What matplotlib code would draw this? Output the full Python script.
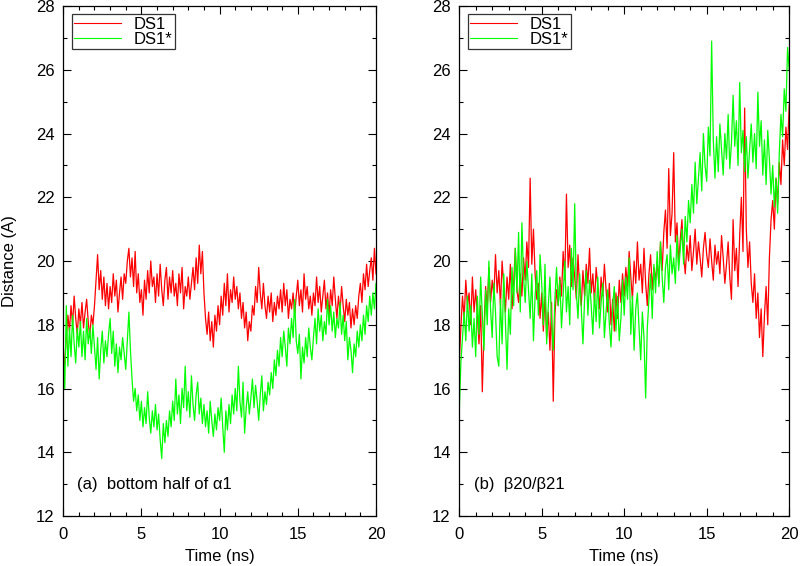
import numpy as np
import matplotlib
matplotlib.use("Agg")
import matplotlib.pyplot as plt
from matplotlib.ticker import MultipleLocator
from matplotlib.lines import Line2D

plt.rcParams['font.family'] = ['Liberation Sans', 'DejaVu Sans']

# time axis: 0..20 ns, one value every 0.1 ns
time_ns = np.arange(201) * 0.1

# (a) bottom half of alpha1
left_ds1 = [
    16.0, 16.9, 17.6, 18.3, 17.8, 18.6, 18.0, 18.9, 18.2, 17.7,
    18.5, 18.0, 18.7, 17.9, 18.4, 18.8, 18.1, 17.6, 18.3, 18.0,
    18.6, 19.4, 20.2, 19.1, 19.7, 18.8, 19.5, 18.6, 19.3, 18.5,
    19.2, 18.7, 19.6, 18.9, 19.4, 18.4, 19.0, 19.5, 18.8, 19.6,
    19.3, 20.0, 20.4, 19.5, 20.1, 19.2, 20.3, 19.0, 19.6, 18.7,
    19.1, 18.3, 19.4, 18.8, 19.7, 19.0, 20.0, 19.2, 19.5, 18.7,
    19.6, 18.9, 19.9, 19.1, 18.6, 19.4, 19.8, 18.8, 19.5, 19.0,
    19.7, 18.9, 19.3, 18.6, 19.6, 19.0, 19.8, 18.5, 19.2, 18.9,
    19.5, 18.8, 19.3, 19.8, 19.1, 20.1, 19.3, 20.5, 19.6, 20.3,
    19.0, 18.2, 17.7, 18.4, 17.5, 18.1, 17.3, 18.3, 17.8, 18.6,
    18.0, 18.9, 18.3, 19.3, 18.6, 19.6, 18.4, 19.1, 18.7, 19.5,
    18.8, 19.2, 18.5, 19.0, 18.2, 18.7, 17.9, 18.4, 17.5, 18.1,
    17.8, 18.6, 18.3, 19.2, 18.7, 19.8, 19.0, 18.5, 19.3, 18.6,
    18.2, 18.9, 18.4, 19.0, 18.1, 18.7, 18.3, 18.9, 18.5, 19.1,
    18.4, 19.3, 18.6, 19.1, 18.2, 18.8, 18.5, 19.0, 18.3, 18.9,
    19.4, 18.6, 19.1, 18.4, 19.6, 18.8, 19.2, 18.5, 18.9, 18.3,
    19.0, 18.6, 19.5, 18.7, 19.2, 18.4, 18.9, 19.4, 18.5, 19.0,
    18.3, 19.1, 18.6, 19.5, 18.8, 18.2, 18.9, 18.4, 19.2, 18.6,
    18.1, 18.8, 18.3, 18.7, 17.9, 18.5, 18.0, 18.6, 18.2, 18.9,
    19.3, 18.7, 19.6, 19.1, 19.9, 19.2, 19.7, 20.1, 19.4, 20.4,
    19.6,
]
left_ds1_star = [
    17.2, 16.0, 18.6, 16.7, 17.9, 17.0, 18.3, 17.4, 16.8, 17.9,
    17.3, 18.1, 17.0, 17.8, 16.9, 18.2, 17.4, 17.9, 17.1, 18.0,
    17.3, 16.6, 17.6, 16.3, 17.2, 17.8, 16.8, 17.5, 17.0, 17.7,
    18.2, 17.1, 17.8, 16.7, 17.4, 16.5, 17.3, 16.9, 17.6, 17.1,
    16.6, 17.5, 18.4, 17.2, 16.3, 15.6, 16.0, 15.3, 15.8, 15.0,
    15.6, 14.8, 15.4, 14.9, 15.9, 15.1, 14.6, 15.3, 14.8, 15.5,
    14.7, 15.2, 14.4, 13.8, 14.9, 14.3, 15.0, 14.5, 15.3, 14.8,
    15.6, 15.0, 16.3, 15.2, 15.8, 14.9, 16.0, 15.4, 16.7, 15.3,
    15.9, 15.1, 16.4, 15.5, 15.0, 15.8, 16.2, 15.2, 15.7, 14.9,
    15.5, 14.8, 15.3, 14.6, 15.6, 15.0, 14.5, 15.2, 14.7, 15.4,
    15.0, 15.7, 14.8, 14.0, 15.3, 14.7, 15.5, 14.9, 15.8, 15.2,
    16.0, 15.3, 16.7, 15.6, 15.1, 16.2, 14.6, 15.4, 15.9, 15.2,
    15.7, 16.3, 15.4, 16.1, 15.6, 15.0, 15.8, 16.4, 15.3, 15.9,
    15.5, 16.2, 15.8, 16.5, 16.0, 16.9, 16.4, 17.2, 16.7, 17.6,
    17.0, 17.8, 17.3, 16.7, 17.9, 17.4, 18.2, 17.6, 18.8, 17.5,
    17.1, 17.7, 16.3, 17.3, 16.8, 17.6, 17.0, 17.9, 17.3, 16.9,
    17.6, 18.2, 17.4, 18.5, 17.8, 18.3, 17.5, 18.1, 17.7, 18.8,
    18.0, 18.6, 17.8, 18.4, 17.6, 18.2, 17.9, 18.7, 17.7, 18.3,
    17.5, 18.1, 16.9, 17.6, 17.2, 16.5, 17.4, 17.0, 17.8, 17.3,
    18.0, 17.5, 18.3, 17.7, 18.6, 18.1, 18.9, 18.3, 19.0, 18.5,
    19.3,
]

# (b) beta20/beta21
right_ds1 = [
    16.8, 17.9, 18.9, 18.2, 19.4, 18.6, 19.0, 18.0, 19.5, 18.4,
    19.1, 18.3, 17.4, 18.6, 15.9, 17.8, 19.2, 18.5, 19.8, 18.7,
    19.4, 18.9, 20.2, 19.0, 19.7, 18.6, 20.0, 19.2, 18.4, 19.5,
    18.8, 19.9, 18.5, 19.3, 20.4, 19.1, 18.7, 19.6, 18.9, 20.1,
    19.4, 20.6, 19.8, 22.6, 19.9, 21.0, 19.6, 18.8, 19.3, 18.2,
    19.0, 17.8, 18.9, 17.6, 18.4, 17.2, 18.7, 15.6, 18.3, 19.1,
    18.6, 19.5, 18.9, 20.3, 19.4, 22.1, 19.8, 20.5, 19.2, 20.1,
    19.5, 18.8, 20.2, 19.1, 18.6, 19.7, 18.9, 19.9, 19.3, 20.4,
    19.0, 19.6, 18.7, 19.8, 19.2, 18.5, 19.5, 18.9, 19.9, 19.1,
    18.4, 19.3, 18.0, 18.8, 17.8, 19.0, 18.2, 19.4, 18.7, 19.6,
    18.9, 19.8, 19.2, 20.3, 19.5, 18.8, 20.0, 19.3, 20.6, 19.4,
    19.9, 19.0, 20.4, 19.3, 18.6, 19.6, 20.2, 19.1, 19.8, 19.4,
    20.0, 19.3, 20.6, 19.7, 20.9, 21.6, 20.4, 22.9, 20.8, 21.5,
    23.4, 20.6, 21.2, 19.9, 20.7, 21.3, 20.2, 19.6, 20.5, 20.0,
    20.8, 19.7, 20.3, 21.0, 19.9, 20.6, 20.1, 19.5, 20.4, 20.9,
    20.2, 19.8, 20.7, 20.0, 19.4, 20.5, 19.9, 20.3, 19.6, 20.8,
    20.1, 19.3, 19.9, 20.6, 19.5, 18.8, 21.3, 19.7, 20.4, 19.2,
    20.8, 22.0, 20.3, 24.8, 21.0, 19.8, 20.6, 19.3, 18.7, 19.6,
    18.2, 19.0, 17.6, 18.5, 17.0, 18.3, 19.2, 18.0, 20.1, 21.3,
    21.9, 21.0, 22.6, 21.8, 23.1, 22.4, 23.8, 23.0, 24.2, 23.5,
    24.9,
]
right_ds1_star = [
    15.2, 16.8, 17.6, 18.4, 17.5, 18.9, 17.8, 18.6, 17.3, 18.2,
    17.0, 18.9, 17.7, 19.5, 18.3, 17.2, 19.1, 18.0, 20.0, 18.5,
    17.6, 19.3, 18.4, 17.0, 16.7, 18.8, 17.4, 19.6, 18.1, 16.6,
    18.5, 17.7, 19.8, 18.6, 20.4, 19.0, 20.9, 18.4, 21.2, 19.5,
    18.7, 20.0, 19.1, 18.2, 19.6, 17.5, 18.9, 19.7, 18.3, 20.2,
    19.3, 18.0, 19.9, 17.4, 18.6, 19.5, 18.1, 17.2, 18.8, 19.8,
    18.6, 19.4, 17.9, 18.9, 20.0, 18.4, 19.2, 18.0, 20.4, 19.1,
    21.8, 19.0, 18.2, 19.6, 18.5, 17.4, 18.8, 19.7, 18.3, 19.4,
    18.6, 17.7, 19.0, 18.1, 19.5, 17.9, 18.7, 19.3, 17.6, 18.4,
    19.1, 18.0, 17.3, 18.6, 19.2, 17.8, 18.9, 17.5, 18.2, 19.4,
    18.3, 19.5, 18.8, 20.1, 17.7, 18.9, 17.2, 18.5, 19.0, 17.9,
    16.9, 18.4, 17.6, 15.7, 17.9, 18.8, 19.6, 18.2, 19.9, 19.0,
    20.3, 19.2, 20.6, 19.5, 18.7, 19.8, 20.2, 19.1, 20.5, 19.6,
    20.1, 19.3, 20.8, 19.7, 20.4, 21.0, 19.9, 21.4, 20.6, 21.9,
    21.2, 22.4, 21.5, 23.1, 21.8, 22.6, 23.4, 22.2, 24.0, 23.0,
    22.5, 24.2, 23.3, 26.9, 23.8, 22.6, 23.9, 22.8, 24.3, 23.5,
    22.7, 24.0, 23.2, 24.6, 22.9, 23.7, 25.2, 23.6, 24.4, 23.0,
    25.6, 23.4, 24.1, 22.8, 23.9, 22.6, 23.5, 24.3, 23.1, 24.0,
    22.9, 25.3, 23.6, 24.4, 22.7, 23.8, 22.4, 24.1, 23.2, 22.1,
    23.0, 21.7, 22.6, 21.5, 23.4, 24.6, 23.9, 25.4, 24.7, 26.7,
    26.0,
]

series_names = ['DS1', 'DS1*']
series_colors = ['#ff0000', '#00ff00']

panels = [
    ([0.079, 0.0883, 0.391, 0.901], left_ds1, left_ds1_star, "(a)  bottom half of \u03b11"),
    ([0.574, 0.0883, 0.4125, 0.901], right_ds1, right_ds1_star, "(b)  \u03b220/\u03b221"),
]

fig = plt.figure(figsize=(8.0, 5.66), dpi=100)

for i, (rect, ds1, ds1s, tag) in enumerate(panels):
    ax = fig.add_axes(rect)
    ax.plot(time_ns, ds1, color=series_colors[0], lw=0.9)
    ax.plot(time_ns, ds1s, color=series_colors[1], lw=0.9)
    ax.set_xlim(0, 20)
    ax.set_ylim(12, 28)
    ax.xaxis.set_major_locator(MultipleLocator(5))
    ax.xaxis.set_minor_locator(MultipleLocator(1))
    ax.yaxis.set_major_locator(MultipleLocator(2))
    ax.yaxis.set_minor_locator(MultipleLocator(1))
    ax.tick_params(which='both', direction='in', top=True, right=True,
                   labelsize=12, width=0.8)
    ax.tick_params(which='major', length=6)
    ax.tick_params(which='minor', length=3)
    ax.tick_params(axis='x', which='major', pad=8)
    ax.tick_params(axis='y', which='major', pad=6)
    for sp in ax.spines.values():
        sp.set_linewidth(0.9)
    ax.set_xlabel('Time (ns)', fontsize=12, labelpad=5)
    if i == 0:
        ax.set_ylabel('Distance (A)', fontsize=12, labelpad=14)

    # thin legend handles, like the original
    handles = [Line2D([], [], color=c, lw=0.8) for c in series_colors]
    leg = ax.legend(handles, series_names, loc='upper left', fontsize=12,
                    frameon=True, fancybox=False, edgecolor='black',
                    borderpad=0.15, labelspacing=0.0, handlelength=2.8,
                    handletextpad=0.8, borderaxespad=0.5)
    leg.get_frame().set_linewidth(0.9)
    ax.text(0.045, 0.062, tag, transform=ax.transAxes, fontsize=12,
            ha='left', va='center')

fig.savefig('out.png', dpi=100)
